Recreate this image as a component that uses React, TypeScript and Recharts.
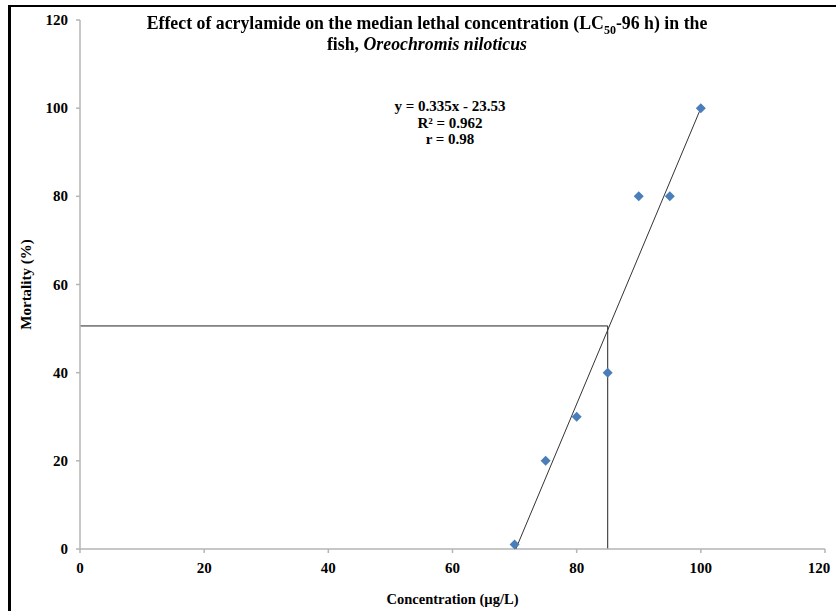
import React from "react";
import {
  ReferenceLine,
  Scatter,
  ScatterChart,
  XAxis,
  YAxis,
} from "recharts";

// observed mortality (%) at each acrylamide concentration (µg/L)
const concentrations = [70, 75, 80, 85, 90, 95, 100];
const mortality = [1, 20, 30, 40, 80, 80, 100];

// fitted line as drawn across the data range
const trendX = [70.2, 100];
const trendY = [0, 100];

// LC50 read-off
const lc50X = 85;
const lc50Y = 50.6;

const xTicks = [0, 20, 40, 60, 80, 100, 120];
const yTicks = [0, 20, 40, 60, 80, 100, 120];

const equationLines = ["y = 0.335x - 23.53", "R² = 0.962", "r = 0.98"];

const points = concentrations.map((x, i) => ({ x, y: mortality[i] }));
const trend = trendX.map((x, i) => ({ x, y: trendY[i] }));

const FONT = '"Liberation Serif", "Times New Roman", serif';

const Diamond = (props: any) => {
  const { cx, cy } = props;
  if (cx == null || cy == null) return null;
  const r = 5;
  return (
    <path
      d={`M${cx},${cy - r}L${cx + r},${cy}L${cx},${cy + r}L${cx - r},${cy}Z`}
      fill="#4a7ebb"
    />
  );
};

const XTick = (props: any) => {
  const { x, y, payload } = props;
  const last = payload.value === xTicks[xTicks.length - 1];
  return (
    <text
      x={last ? x - 5 : x}
      y={y + 20}
      textAnchor="middle"
      fontSize={15}
      fontWeight={700}
      fontFamily={FONT}
      fill="#000"
    >
      {payload.value}
    </text>
  );
};

const YTick = (props: any) => {
  const { x, y, payload } = props;
  return (
    <text
      x={x + 4 - 12}
      y={y + 5}
      textAnchor="end"
      fontSize={15}
      fontWeight={700}
      fontFamily={FONT}
      fill="#000"
    >
      {payload.value}
    </text>
  );
};

export default function App() {
  return (
    <div
      style={{
        position: "fixed",
        left: 0,
        top: 0,
        width: 836,
        height: 611,
        background: "#fff",
        fontFamily: FONT,
      }}
    >
      <div style={{ position: "absolute", left: 8, top: 5, width: 828, height: 2, background: "#000" }} />
      <div style={{ position: "absolute", left: 8, top: 5, width: 3, height: 606, background: "#000" }} />

      <ScatterChart
        width={836}
        height={611}
        margin={{ top: 20, right: 11, bottom: 22, left: 8 }}
      >
        <XAxis
          type="number"
          dataKey="x"
          domain={[0, 120]}
          ticks={xTicks}
          tickSize={4}
          tickMargin={0}
          stroke="#b5b5b5"
          strokeWidth={1.5}
          tick={<XTick />}
          height={40}
          label={{
            value: "Concentration (µg/L)",
            position: "insideBottom",
            offset: -15,
            style: { fontSize: 14.5, fontWeight: 700, fill: "#000", fontFamily: FONT },
          }}
        />
        <YAxis
          type="number"
          dataKey="y"
          domain={[0, 120]}
          ticks={yTicks}
          tickSize={4}
          tickMargin={0}
          stroke="#b5b5b5"
          strokeWidth={1.5}
          tick={<YTick />}
          width={72}
          label={{
            value: "Mortality (%)",
            angle: -90,
            position: "insideLeft",
            offset: 18,
            style: { fontSize: 15, fontWeight: 700, fill: "#000", fontFamily: FONT, textAnchor: "middle" },
          }}
        />
        <ReferenceLine
          segment={[{ x: 0, y: lc50Y }, { x: lc50X, y: lc50Y }]}
          stroke="#222"
          strokeWidth={1}
        />
        <ReferenceLine
          segment={[{ x: lc50X, y: 0 }, { x: lc50X, y: lc50Y }]}
          stroke="#222"
          strokeWidth={1}
        />
        <Scatter
          data={trend}
          line={{ stroke: "#333", strokeWidth: 1 }}
          shape={() => null}
          isAnimationActive={false}
        />
        <Scatter data={points} shape={Diamond} isAnimationActive={false} />
      </ScatterChart>

      <div
        style={{
          position: "absolute",
          left: 0,
          top: 13,
          width: 854,
          textAlign: "center",
          fontSize: 17.8,
          fontWeight: 700,
          lineHeight: "21px",
          color: "#000",
        }}
      >
        <div>
          Effect of acrylamide on the median lethal concentration (LC
          <sub style={{ fontSize: 12, lineHeight: 0 }}>50</sub>-96 h) in the
        </div>
        <div>
          fish, <i>Oreochromis niloticus</i>
        </div>
      </div>

      <div
        style={{
          position: "absolute",
          left: 350,
          top: 98,
          width: 200,
          textAlign: "center",
          fontSize: 15,
          fontWeight: 700,
          lineHeight: "16.5px",
          color: "#000",
        }}
      >
        {equationLines.map((t) => (
          <div key={t}>{t}</div>
        ))}
      </div>
    </div>
  );
}
